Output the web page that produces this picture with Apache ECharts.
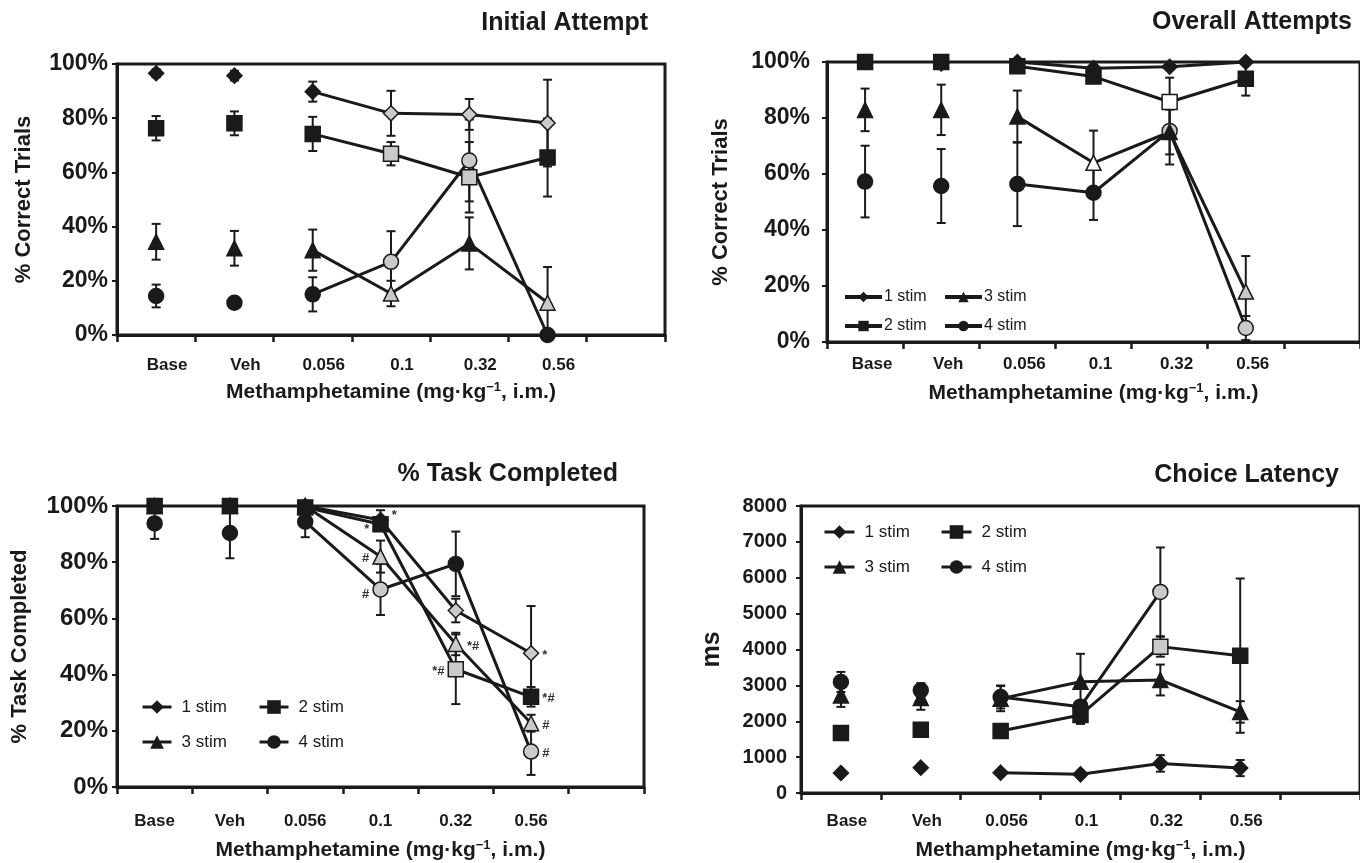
<!DOCTYPE html>
<html><head><meta charset="utf-8">
<script src="https://cdn.jsdelivr.net/npm/echarts@6/dist/echarts.min.js"></script>
<style>html,body{margin:0;padding:0;background:#fff}#c{width:1360px;height:863px}</style>
</head><body><div id="c"></div>
<script>
// ---------- data ----------
const categories = ['Base', 'Veh', '0.056', '0.1', '0.32', '0.56', ''];
const groupNames = ['1 stim', '2 stim', '3 stim', '4 stim'];
const pctTicks = [0, 20, 40, 60, 80, 100];
const msTicks = [0, 1000, 2000, 3000, 4000, 5000, 6000, 7000, 8000];

// significance fill code per point: 0 = black, 1 = grey, 2 = white
// Initial Attempt (% correct)
const iaMean1 = [96.6, 95.7, 89.8, 81.8, 81.4, 78.2];
const iaErr1  = [1.5, 1.8, 3.7, 8.3, 5.7, 16.0];
const iaSig1  = [0, 0, 0, 1, 1, 1];
const iaMean2 = [76.3, 78.1, 74.2, 66.9, 58.2, 65.5];
const iaErr2  = [4.5, 4.4, 6.3, 4.3, 13.0, 14.4];
const iaSig2  = [0, 0, 0, 1, 1, 0];
const iaMean3 = [34.4, 32.0, 31.3, 15.3, 33.8, 11.9];
const iaErr3  = [6.6, 6.4, 7.6, 4.7, 9.6, 13.2];
const iaSig3  = [0, 0, 0, 1, 0, 1];
const iaMean4 = [14.4, 11.9, 15.0, 27.0, 64.4, 0];
const iaErr4  = [4.2, 1.5, 6.3, 11.3, 15.1, 0];
const iaSig4  = [0, 0, 0, 1, 1, 0];

// Overall Attempts (% correct)
const oaMean1 = [100, 99.5, 100, 97.8, 98.3, 100];
const oaErr1  = [0, 0, 0, 1.0, 1.0, 0];
const oaSig1  = [0, 0, 0, 0, 0, 0];
const oaMean2 = [100, 100, 98.5, 94.8, 85.7, 94.0];
const oaErr2  = [0, 0, 1.0, 1.5, 8.7, 6.0];
const oaSig2  = [0, 0, 0, 0, 2, 0];
const oaMean3 = [82.9, 82.9, 80.5, 64.0, 75.0, 18.0];
const oaErr3  = [7.6, 9.0, 9.3, 11.5, 8.0, 12.7];
const oaSig3  = [0, 0, 0, 2, 0, 1];
const oaMean4 = [57.3, 55.7, 56.4, 53.3, 75.4, 5.0];
const oaErr4  = [12.8, 13.2, 15.0, 9.7, 12.0, 4.3];
const oaSig4  = [0, 0, 0, 0, 1, 1];

// % Task Completed
const tcMean1 = [100, 100, 100, 95.0, 62.8, 47.6];
const tcErr1  = [0, 0, 0, 3.5, 4.2, 16.8];
const tcSig1  = [0, 0, 0, 0, 1, 1];
const tcNote1 = ['', '', '', '*', '', '*'];
const tcMean2 = [100, 100, 99.5, 93.5, 41.9, 32.1];
const tcErr2  = [0, 0, 0, 2.0, 12.4, 3.5];
const tcSig2  = [0, 0, 0, 0, 1, 0];
const tcNote2 = ['', '', '', '*', '*#', '*#'];
const tcMean3 = [100, 100, 100, 82.0, 50.9, 22.7];
const tcErr3  = [0, 0, 0, 5.7, 4.0, 3.0];
const tcSig3  = [0, 0, 0, 1, 1, 1];
const tcNote3 = ['', '', '', '#', '*#', '#'];
const tcMean4 = [93.8, 90.4, 94.4, 70.3, 79.4, 12.6];
const tcErr4  = [5.5, 9.0, 5.5, 9.1, 11.5, 8.3];
const tcSig4  = [0, 0, 0, 1, 0, 1];
const tcNote4 = ['', '', '', '#', '', '#'];

// Choice Latency (ms)
const clMean1 = [557, 706, 567, 520, 825, 695];
const clErr1  = [0, 0, 0, 0, 230, 225];
const clSig1  = [0, 0, 0, 0, 0, 0];
const clMean2 = [1673, 1766, 1729, 2175, 4080, 3829];
const clErr2  = [0, 150, 0, 250, 280, 2150];
const clSig2  = [0, 0, 0, 0, 1, 0];
const clMean3 = [2720, 2650, 2630, 3100, 3150, 2260];
const clErr3  = [320, 330, 350, 780, 430, 300];
const clSig3  = [0, 0, 0, 0, 0, 0];
const clMean4 = [3095, 2862, 2677, 2407, 5604, null];
const clErr4  = [280, 200, 320, 0, 1240, null];
const clSig4  = [0, 0, 0, 0, 1, 0];

// ---------- styling ----------
const INK = '#1a1a1a';
const FILLS = [INK, '#c9cacc', '#ffffff'];
const SYMBOLS = ['diamond', 'rect', 'triangle', 'circle'];
const FONT = '"Liberation Sans", Arial, Helvetica, sans-serif';

const series = [];

function addGroup(panel, gi, means, errs, sig, notes, noteLayout) {
  const sym = SYMBOLS[gi];
  const mk = (i) => {
    const v = means[i];
    if (v === null || v === undefined) return '-';
    const d = { value: v, itemStyle: { color: FILLS[sig[i]], borderColor: INK, borderWidth: 1.5, opacity: 1 } };
    if (notes && notes[i]) {
      const lay = noteLayout[i] || { side: 'right' };
      d.label = {
        show: true, formatter: notes[i], position: lay.side, distance: lay.dist || 3,
        offset: lay.off || [0, 2], fontSize: 13, fontWeight: 'bold', color: '#333', fontFamily: FONT
      };
    }
    return d;
  };
  // Base and Veh: unconnected points
  series.push({
    type: 'scatter', name: groupNames[gi] + ' ref', xAxisIndex: panel, yAxisIndex: panel,
    symbol: sym, symbolSize: 15, z: 4, silent: true,
    itemStyle: { color: INK, opacity: 1 },
    data: categories.map((c, i) => (i < 2 ? mk(i) : '-'))
  });
  // Drug doses: connected line
  series.push({
    type: 'line', name: groupNames[gi], xAxisIndex: panel, yAxisIndex: panel,
    symbol: sym, symbolSize: 15, showAllSymbol: true, z: 3, silent: true,
    lineStyle: { color: INK, width: 3 }, itemStyle: { color: INK, opacity: 1 },
    data: categories.map((c, i) => (i >= 2 && i < 6 ? mk(i) : '-'))
  });
  // error bars
  const ed = [];
  means.forEach((v, i) => { if (v !== null && errs[i]) ed.push([i, v, errs[i]]); });
  series.push({
    type: 'custom', name: groupNames[gi] + ' err', xAxisIndex: panel, yAxisIndex: panel,
    z: 2, silent: true, data: ed, encode: { x: 0, y: 1 },
    renderItem: function (params, api) {
      const x = api.value(0), y = api.value(1), e = api.value(2);
      const a = api.coord([x, y + e]), b = api.coord([x, y - e]);
      const w = 4.5, st = { stroke: INK, lineWidth: 2 };
      return { type: 'group', children: [
        { type: 'line', shape: { x1: a[0], y1: a[1], x2: b[0], y2: b[1] }, style: st },
        { type: 'line', shape: { x1: a[0] - w, y1: a[1], x2: a[0] + w, y2: a[1] }, style: st },
        { type: 'line', shape: { x1: b[0] - w, y1: b[1], x2: b[0] + w, y2: b[1] }, style: st }
      ] };
    }
  });
}

// Panel 0: Initial Attempt
addGroup(0, 0, iaMean1, iaErr1, iaSig1);
addGroup(0, 1, iaMean2, iaErr2, iaSig2);
addGroup(0, 2, iaMean3, iaErr3, iaSig3);
addGroup(0, 3, iaMean4, iaErr4, iaSig4);
// Panel 1: Overall Attempts
addGroup(1, 3, oaMean4, oaErr4, oaSig4);
addGroup(1, 2, oaMean3, oaErr3, oaSig3);
addGroup(1, 0, oaMean1, oaErr1, oaSig1);
addGroup(1, 1, oaMean2, oaErr2, oaSig2);
// Panel 2: % Task Completed
const R = { side: 'right' }, L = { side: 'left' };
addGroup(2, 3, tcMean4, tcErr4, tcSig4, tcNote4, [null, null, null, { side: 'left', off: [0, 5] }, null, R]);
addGroup(2, 2, tcMean3, tcErr3, tcSig3, tcNote3, [null, null, null, { side: 'left', off: [0, 2] }, R, R]);
addGroup(2, 0, tcMean1, tcErr1, tcSig1, tcNote1, [null, null, null, { side: 'right', off: [0, -5] }, null, R]);
addGroup(2, 1, tcMean2, tcErr2, tcSig2, tcNote2, [null, null, null, { side: 'left', off: [0, 5] }, L, R]);
// Panel 3: Choice Latency
addGroup(3, 3, clMean4, clErr4, clSig4);
addGroup(3, 2, clMean3, clErr3, clSig3);
addGroup(3, 1, clMean2, clErr2, clSig2);
addGroup(3, 0, clMean1, clErr1, clSig1);

// ---------- layout ----------
const grids = [
  { left: 117, top: 64, width: 548, height: 271 },
  { left: 827, top: 62, width: 535, height: 280 },
  { left: 117, top: 506, width: 527, height: 281 },
  { left: 801, top: 506, width: 570, height: 287 }
].map(g => Object.assign(g, { show: true, borderColor: INK, borderWidth: 3, backgroundColor: 'transparent' }));

const xCfg = [
  { margin: 22, shift: 22, nameGap: 46 },
  { margin: 14, shift: 14, nameGap: 40 },
  { margin: 26, shift: 0, nameGap: 52 },
  { margin: 20, shift: 12, nameGap: 46 }
];
const xAxes = xCfg.map((c, i) => ({
  type: 'category', gridIndex: i, data: categories, boundaryGap: true,
  name: 'Methamphetamine (mg·kg{sup|−1}, i.m.)', nameLocation: 'middle', nameGap: c.nameGap,
  nameTextStyle: {
    fontSize: 21, fontWeight: 'bold', color: INK, fontFamily: FONT,
    rich: { sup: { fontSize: 13, fontWeight: 'bold', color: INK, verticalAlign: 'top', padding: [0, 0, 9, 0] } }
  },
  axisLine: { show: true, lineStyle: { color: INK, width: 3 } },
  axisTick: { show: true, inside: false, length: 7, lineStyle: { color: INK, width: 2.5 } },
  axisLabel: { fontSize: 17, fontWeight: 'bold', color: INK, fontFamily: FONT, margin: c.margin,
    padding: [0, 0, 0, c.shift], interval: 0 },
  splitLine: { show: false }
}));

const yCfg = [
  { name: '% Correct Trials', ticks: pctTicks, fmt: v => v + '%', fs: 23, margin: 9, gap: 82, nfs: 22 },
  { name: '% Correct Trials', ticks: pctTicks, fmt: v => v + '%', fs: 23, margin: 17, gap: 95, nfs: 22 },
  { name: '% Task Completed', ticks: pctTicks, fmt: v => v + '%', fs: 24, margin: 9, gap: 86, nfs: 22 },
  { name: 'ms', ticks: msTicks, fmt: v => String(v), fs: 20, margin: 14, gap: 76, nfs: 25 }
];
const yAxes = yCfg.map((c, i) => ({
  type: 'value', gridIndex: i, min: c.ticks[0], max: c.ticks[c.ticks.length - 1],
  interval: c.ticks[1] - c.ticks[0],
  name: c.name, nameLocation: 'middle', nameGap: c.gap, nameRotate: 90,
  nameTextStyle: { fontSize: c.nfs, fontWeight: 'bold', color: INK, fontFamily: FONT },
  axisLine: { show: true, lineStyle: { color: INK, width: 3 } },
  axisTick: { show: true, inside: false, length: 5, lineStyle: { color: INK, width: 2 } },
  axisLabel: { formatter: c.fmt, fontSize: c.fs, fontWeight: 'bold', color: INK, fontFamily: FONT, margin: c.margin },
  splitLine: { show: false }
}));

const titleStyle = { fontSize: 25, fontWeight: 'bold', color: INK, fontFamily: FONT };
const titles = [
  { text: 'Initial Attempt', right: 712, top: 11 },
  { text: 'Overall Attempts', right: 8, top: 10 },
  { text: '% Task Completed', right: 742, top: 462 },
  { text: 'Choice Latency', right: 21, top: 463 }
].map(t => Object.assign(t, { padding: 0, textStyle: titleStyle }));

function leg(name, left, cy, w, h, fs, lw, tpad) {
  const boxH = Math.max(h, fs + 2);
  return {
    data: [name], left: left, top: cy - boxH / 2, itemWidth: w, itemHeight: h, padding: 0,
    selectedMode: false, itemGap: 0,
    textStyle: { fontSize: fs, color: INK, fontFamily: FONT, padding: [0, 0, 0, tpad] },
    lineStyle: { width: lw }
  };
}
const legends = [
  leg('1 stim', 843, 298, 37, 13, 16, 4, -3),
  leg('3 stim', 943, 298, 37, 13, 16, 4, -3),
  leg('2 stim', 843, 327, 37, 13, 16, 4, -3),
  leg('4 stim', 943, 327, 37, 13, 16, 4, -3),
  leg('1 stim', 141, 708, 29, 17, 17, 3, 5),
  leg('2 stim', 258, 708, 29, 17, 17, 3, 5),
  leg('3 stim', 141, 743, 29, 17, 17, 3, 5),
  leg('4 stim', 258, 743, 29, 17, 17, 3, 5),
  leg('1 stim', 823, 533, 30, 17, 17, 3, 5),
  leg('2 stim', 940, 533, 30, 17, 17, 3, 5),
  leg('3 stim', 823, 568, 30, 17, 17, 3, 5),
  leg('4 stim', 940, 568, 30, 17, 17, 3, 5)
];

const chart = echarts.init(document.getElementById('c'), null, { renderer: 'canvas' });
chart.setOption({
  backgroundColor: '#ffffff',
  animation: false,
  textStyle: { fontFamily: FONT },
  title: titles,
  legend: legends,
  grid: grids,
  xAxis: xAxes,
  yAxis: yAxes,
  series: series
});
</script>
</body></html>
